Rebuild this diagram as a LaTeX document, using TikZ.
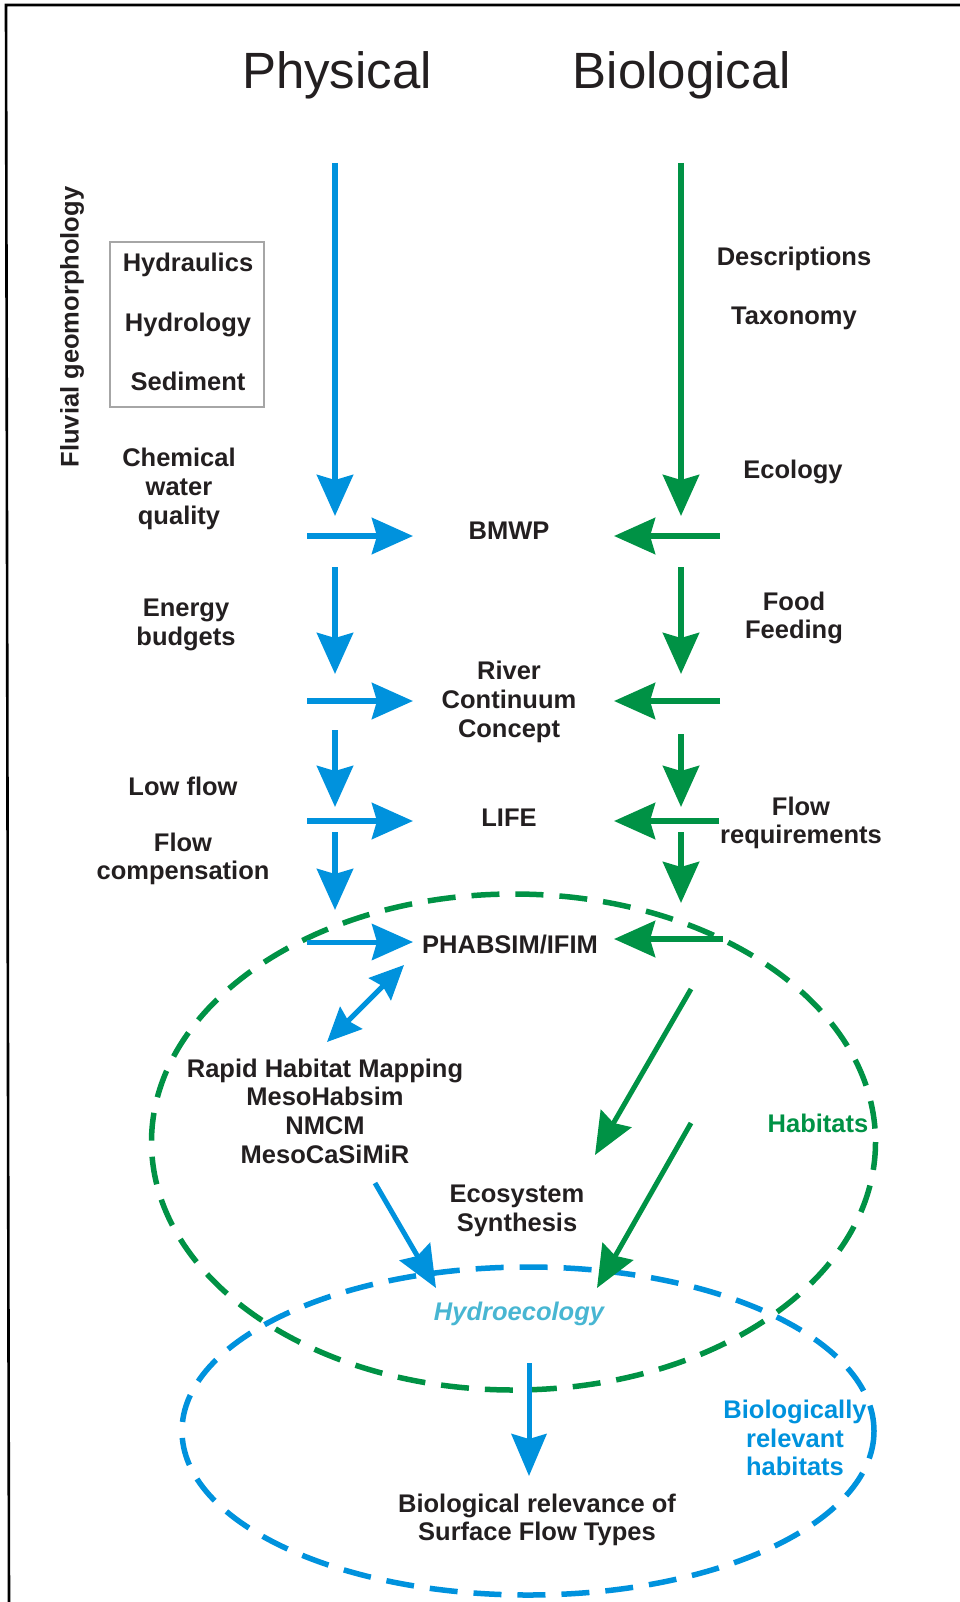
\documentclass[tikz,border=0pt]{standalone}
\usepackage{fontspec}
\setmainfont{Liberation Sans}
\usetikzlibrary{arrows.meta}
\definecolor{pblue}{RGB}{0,146,221}
\definecolor{bgreen}{RGB}{0,146,69}
\definecolor{hcyan}{RGB}{72,182,210}
\definecolor{tblack}{RGB}{35,31,32}
\begin{document}
\begin{tikzpicture}[x=1pt,y=-1pt,
  lblb/.style={font=\fontsize{25.5}{28.7}\selectfont\bfseries, text=tblack, align=center, inner sep=0pt},
  lbl/.style={lblb, yshift=-3pt},
  ttl/.style={font=\fontsize{51}{55}\selectfont, text=tblack, inner sep=0pt, yshift=-4pt},
  arr/.style={line width=6pt, -{Stealth[length=41pt,width=36pt,inset=5pt]}},
  darr/.style={line width=5pt, {Stealth[length=34pt,width=31pt,inset=4pt]}-{Stealth[length=34pt,width=31pt,inset=4pt]}},
  diag/.style={line width=5pt, -{Stealth[length=42pt,width=35pt,inset=5pt]}},
  ell/.style={line width=5.5pt, dash pattern=on 28pt off 16pt}
]
\useasboundingbox (0,0) rectangle (960,1602);
% frame
\draw[line width=2.6pt, black] (960,5) -- (6,5) -- (9,1602);

% titles
\node[ttl] (phys) at (337,71) {Physical};
\node[ttl] (biol) at (682,71) {Biological};

% left labels
\node[lblb, rotate=90] (fluv) at (72,327) {Fluvial geomorphology};
\draw[line width=1.3pt, gray!70] (110,242) rectangle (264,407);
\node[lbl] (hydra) at (188,262) {Hydraulics};
\node[lbl] (hydro) at (188,322) {Hydrology};
\node[lbl] (sedi) at (188,378) {Sediment};
\node[lbl] (chem) at (179,486) {Chemical\\water\\quality};
\node[lbl] (energy) at (186,622) {Energy\\budgets};
\node[lbl] (low) at (183,783) {Low flow};
\node[lbl] (fcomp) at (183,856) {Flow\\compensation};

% right labels
\node[lbl] (desc) at (794,256) {Descriptions};
\node[lbl] (taxo) at (794,315) {Taxonomy};
\node[lbl] (ecol) at (793,469) {Ecology};
\node[lbl] (food) at (794,615) {Food\\Feeding};
\node[lbl] (freq) at (801,820) {Flow\\requirements};

% centre labels
\node[lbl] (bmwp) at (509,528) {BMWP};
\node[lbl] (rcc) at (509,699) {River\\Continuum\\Concept};
\node[lbl] (life) at (509,815) {LIFE};
\node[lbl] (phab) at (510,942) {PHABSIM/IFIM};
\node[lbl] (rapid) at (325,1108) {Rapid Habitat Mapping\\MesoHabsim\\NMCM\\MesoCaSiMiR};
\node[lbl] (eco) at (517,1208) {Ecosystem\\Synthesis};
\node[lbl, text=hcyan, font=\fontsize{25.5}{28.7}\selectfont\bfseries\itshape] (hydroeco) at (519,1311) {Hydroecology};
\node[lbl] (biorel) at (537,1517) {Biological relevance of\\Surface Flow Types};
\node[lbl, text=bgreen] (habit) at (818,1120) {Habitats};
\node[lbl, text=pblue] (brh) at (795,1435) {Biologically\\relevant\\habitats};

% ellipses
\draw[ell, bgreen] (513.5,1142) ellipse [x radius=362, y radius=248];
\draw[ell, pblue] (528,1431) ellipse [x radius=346, y radius=164];

% coordinates
\coordinate (bv1s) at (335,163); \coordinate (bv1e) at (335,516);
\coordinate (gv1s) at (681,163); \coordinate (gv1e) at (681,516);
\coordinate (bh1s) at (307,536); \coordinate (bh1e) at (413,536);
\coordinate (gh1s) at (720,536); \coordinate (gh1e) at (614,536);
\coordinate (bv2s) at (335,567); \coordinate (bv2e) at (335,674);
\coordinate (gv2s) at (681,567); \coordinate (gv2e) at (681,674);
\coordinate (bh2s) at (307,701); \coordinate (bh2e) at (413,701);
\coordinate (gh2s) at (720,701); \coordinate (gh2e) at (614,701);
\coordinate (bv3s) at (335,730); \coordinate (bv3e) at (335,807);
\coordinate (gv3s) at (681,734); \coordinate (gv3e) at (681,807);
\coordinate (bh3s) at (307,821); \coordinate (bh3e) at (413,821);
\coordinate (gh3s) at (719,821); \coordinate (gh3e) at (614,821);
\coordinate (bv4s) at (335,832); \coordinate (bv4e) at (335,910);
\coordinate (gv4s) at (681,832); \coordinate (gv4e) at (681,903);
\coordinate (bh4s) at (307,942); \coordinate (bh4e) at (413,942);
\coordinate (gh4s) at (723,939); \coordinate (gh4e) at (614,939);
\coordinate (dbl1) at (404,965); \coordinate (dbl2) at (327,1042);
\coordinate (gd1s) at (691,989); \coordinate (gd1e) at (595,1155);
\coordinate (gd2s) at (691,1123); \coordinate (gd2e) at (597,1288);
\coordinate (bds) at (375,1183); \coordinate (bde) at (436,1288);
\coordinate (bdowns) at (529,1363); \coordinate (bdowne) at (529,1476);

% blue arrows
\draw[arr, pblue] (bv1s) -- (bv1e);
\draw[arr, pblue] (bh1s) -- (bh1e);
\draw[arr, pblue] (bv2s) -- (bv2e);
\draw[arr, pblue] (bh2s) -- (bh2e);
\draw[arr, pblue] (bv3s) -- (bv3e);
\draw[arr, pblue] (bh3s) -- (bh3e);
\draw[arr, pblue] (bv4s) -- (bv4e);
\draw[arr, pblue, line width=5pt] (bh4s) -- (bh4e);
\draw[darr, pblue] (dbl1) -- (dbl2);
\draw[diag, pblue] (bds) -- (bde);
\draw[diag, pblue] (bdowns) -- (bdowne);

% green arrows
\draw[arr, bgreen] (gv1s) -- (gv1e);
\draw[arr, bgreen] (gh1s) -- (gh1e);
\draw[arr, bgreen] (gv2s) -- (gv2e);
\draw[arr, bgreen] (gh2s) -- (gh2e);
\draw[arr, bgreen] (gv3s) -- (gv3e);
\draw[arr, bgreen] (gh3s) -- (gh3e);
\draw[arr, bgreen] (gv4s) -- (gv4e);
\draw[arr, bgreen] (gh4s) -- (gh4e);
\draw[diag, bgreen] (gd1s) -- (gd1e);
\draw[diag, bgreen] (gd2s) -- (gd2e);
\end{tikzpicture}
\end{document}
